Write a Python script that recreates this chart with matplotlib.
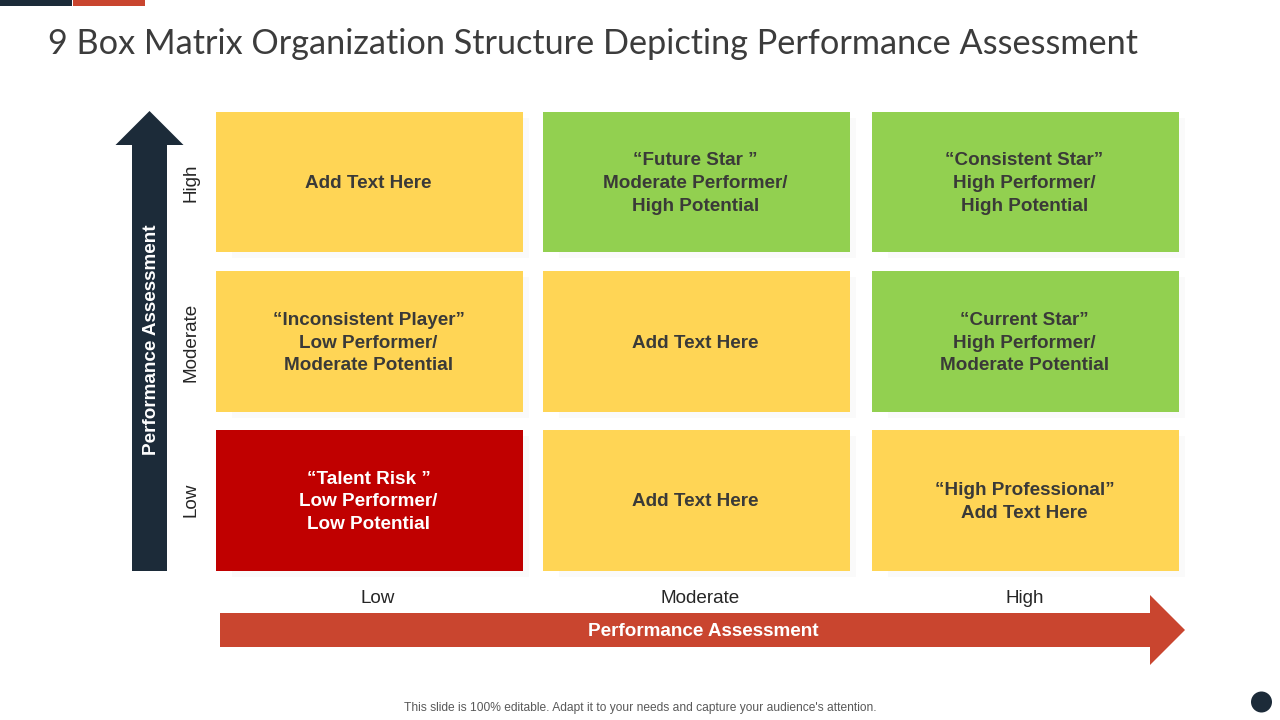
import matplotlib
matplotlib.use("Agg")
import matplotlib.pyplot as plt
from matplotlib.patches import Rectangle, Polygon, Circle

TITLE = "9 Box Matrix Organization Structure Depicting Performance Assessment"
FOOTER = "This slide is 100% editable. Adapt it to your needs and capture your audience's attention."
AXIS_NAME = "Performance Assessment"
LEVELS = ["Low", "Moderate", "High"]

# rows listed top to bottom, columns left to right
CELL_TEXT = [
    ["Add Text Here",
     "\u201cFuture Star \u201d\nModerate Performer/\nHigh Potential",
     "\u201cConsistent Star\u201d\nHigh Performer/\nHigh Potential"],
    ["\u201cInconsistent Player\u201d\nLow Performer/\nModerate Potential",
     "Add Text Here",
     "\u201cCurrent Star\u201d\nHigh Performer/\nModerate Potential"],
    ["\u201cTalent Risk \u201d\nLow Performer/\nLow Potential",
     "Add Text Here",
     "\u201cHigh Professional\u201d\nAdd Text Here"],
]
CELL_KIND = [
    ["y", "g", "g"],
    ["y", "y", "g"],
    ["r", "y", "y"],
]

COLORS = {"y": "#FFD555", "g": "#92D050", "r": "#C00000"}
NAVY = "#1C2B39"
RED = "#C9452F"
INK = "#3A3A38"

COL_X = [(216, 523), (543, 850), (872, 1179)]
ROW_Y = [(112, 252), (271, 412), (430, 571)]
X_LABEL_X = [378, 700, 1025]
Y_LABEL_Y = [500, 342, 183]

SANS = "Liberation Sans"

fig = plt.figure(figsize=(12.8, 7.2), dpi=100, facecolor="white")
ax = fig.add_axes([0, 0, 1, 1])
ax.set_xlim(0, 1280)
ax.set_ylim(720, 0)
ax.axis("off")

# top accent bars
ax.add_patch(Rectangle((0, 0), 72, 6, color=NAVY, lw=0))
ax.add_patch(Rectangle((73, 0), 72, 6, color=RED, lw=0))

ax.text(48, 44, TITLE, fontsize=24.7, family="Lato", color="#3C3C3C",
        ha="left", va="center")

# cells
for r, (y0, y1) in enumerate(ROW_Y):
    for c, (x0, x1) in enumerate(COL_X):
        kind = CELL_KIND[r][c]
        ax.add_patch(Rectangle((x0 + 16, y0 + 6), x1 - x0 - 10, y1 - y0,
                               color="#FAFAFA", lw=0, zorder=1))
        ax.add_patch(Rectangle((x0, y0), x1 - x0, y1 - y0,
                               color=COLORS[kind], lw=0, zorder=2))
        ax.text((x0 + x1) / 2 - 1, (y0 + y1) / 2 + 1.5, CELL_TEXT[r][c],
                fontsize=13.6, family=SANS, weight="bold",
                color="white" if kind == "r" else INK,
                ha="center", va="center", linespacing=1.45, zorder=3)

# vertical arrow
ax.add_patch(Polygon([(132, 571), (132, 145), (115.5, 145), (149.5, 111),
                      (183.5, 145), (167, 145), (167, 571)],
                     closed=True, color=NAVY, lw=0))
ax.text(152, 340, AXIS_NAME, fontsize=13.6, family=SANS, weight="bold",
        color="white", rotation=90, ha="center", va="center")

# horizontal arrow
ax.add_patch(Polygon([(220, 613), (1150, 613), (1150, 595), (1185, 630),
                      (1150, 665), (1150, 647), (220, 647)],
                     closed=True, color=RED, lw=0))
ax.text(703, 631.5, AXIS_NAME, fontsize=13.6, family=SANS, weight="bold",
        color="white", ha="center", va="center")

# level labels
for label, x in zip(LEVELS, X_LABEL_X):
    ax.text(x, 598.5, label, fontsize=13.6, family=SANS, color="#262626",
            ha="center", va="center")
for label, y in zip(LEVELS, Y_LABEL_Y):
    ax.text(191, y, label, fontsize=13.6, family=SANS, color="#262626",
            rotation=90, ha="center", va="center")

ax.text(640, 708.5, FOOTER, fontsize=8.65, family=SANS, color="#595959",
        ha="center", va="center")
ax.add_patch(Circle((1261.5, 702), 10.5, color=NAVY, lw=0))

fig.savefig("out.png", dpi=100)
